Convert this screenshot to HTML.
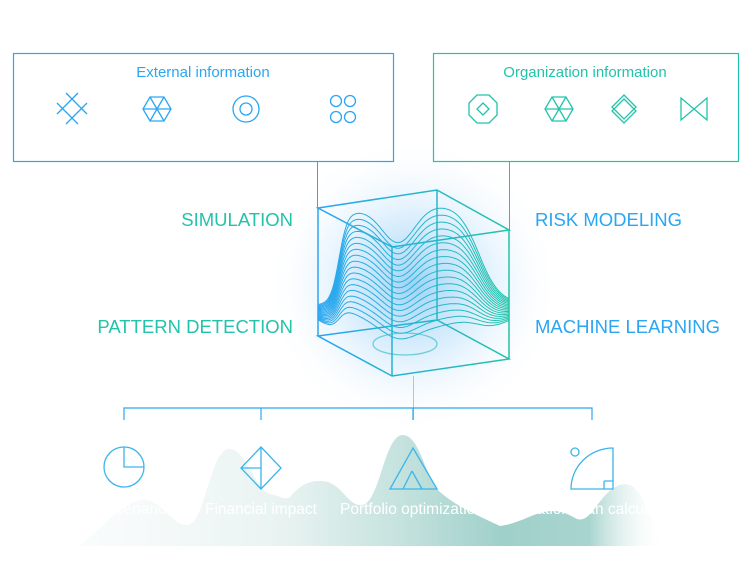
<!DOCTYPE html>
<html><head><meta charset="utf-8"><style>
html,body{margin:0;padding:0;background:#fff;width:755px;height:571px;overflow:hidden}
svg{display:block}
</style></head><body>
<svg id="s" width="755" height="571" viewBox="0 0 755 571" xmlns="http://www.w3.org/2000/svg" font-family="Liberation Sans, Arial, sans-serif">
<defs>
<radialGradient id="glow" cx="413" cy="285" r="150" gradientUnits="userSpaceOnUse">
<stop offset="0" stop-color="#7cc4f5" stop-opacity="0.75"/>
<stop offset="0.45" stop-color="#b8defa" stop-opacity="0.5"/>
<stop offset="1" stop-color="#ffffff" stop-opacity="0"/>
</radialGradient>
<linearGradient id="sg" x1="318" y1="0" x2="509" y2="0" gradientUnits="userSpaceOnUse">
<stop offset="0" stop-color="#2aa6f2"/><stop offset="1" stop-color="#22c3aa"/>
</linearGradient>
<linearGradient id="mt" x1="80" y1="0" x2="665" y2="0" gradientUnits="userSpaceOnUse">
<stop offset="0" stop-color="#f4f9f9" stop-opacity="0.5"/>
<stop offset="0.35" stop-color="#e8f3f1"/>
<stop offset="0.55" stop-color="#c4e2de"/>
<stop offset="0.72" stop-color="#a0d0ca"/>
<stop offset="0.87" stop-color="#a8d4ce"/>
<stop offset="1" stop-color="#ffffff" stop-opacity="0"/>
</linearGradient>
</defs>
<ellipse cx="413" cy="285" rx="200" ry="145" fill="url(#glow)"/>

<rect x="13.5" y="53.5" width="380" height="108" fill="none" stroke="#2aa6f2" stroke-width="1.2"/>
<rect x="433.5" y="53.5" width="305" height="108" fill="none" stroke="#22c3aa" stroke-width="1.2"/>
<text x="203" y="77" text-anchor="middle" font-size="15" fill="#2aa6f2">External information</text>
<text x="585" y="77" text-anchor="middle" font-size="15" fill="#22c3aa">Organization information</text>
<line x1="317.5" y1="162" x2="317.5" y2="208" stroke="#2aa6f2" stroke-width="1"/>
<line x1="509.5" y1="162" x2="509.5" y2="230" stroke="#22c3aa" stroke-width="1"/>

<g fill="none" stroke="#2aa6f2" stroke-width="1.3">
<path d="M66 93 L87 114 M78 93 L57 114 M57 103 L78 124 M87 103 L66 124"/>
<path d="M150 97 L164 97 L171 109 L164 121 L150 121 L143 109 Z M143 109 L171 109 M150 97 L164 121 M164 97 L150 121"/>
<circle cx="246" cy="109" r="13"/><circle cx="246" cy="109" r="6"/>
<circle cx="336" cy="101" r="5.5"/><circle cx="350" cy="101" r="5.5"/><circle cx="336" cy="117" r="5.5"/><circle cx="350" cy="117" r="5.5"/>
</g>
<g fill="none" stroke="#22c3aa" stroke-width="1.3">
<path d="M477 95 L489 95 L497 103 L497 115 L489 123 L477 123 L469 115 L469 103 Z"/>
<path d="M483 103 L489 109 L483 115 L477 109 Z"/>
<path d="M552 97 L566 97 L573 109 L566 121 L552 121 L545 109 Z M545 109 L573 109 M552 97 L566 121 M566 97 L552 121"/>
<path d="M624 95 L636 107 L624 119 L612 107 Z"/>
<path d="M624 99 L636 111 L624 123 L612 111 Z"/>
<path d="M681 98 L681 120 L707 98 L707 120 Z"/>
</g>

<text x="293" y="226" text-anchor="end" font-size="18.5" fill="#22c3aa">SIMULATION</text>
<text x="293" y="333" text-anchor="end" font-size="18.5" fill="#22c3aa">PATTERN DETECTION</text>
<text x="535" y="226" font-size="18.5" fill="#2aa6f2">RISK MODELING</text>
<text x="535" y="333" font-size="18.5" fill="#2aa6f2">MACHINE LEARNING</text>

<g id="curves" fill="none" stroke="url(#sg)" stroke-width="1"></g>

<ellipse cx="405" cy="344" rx="32" ry="11" fill="none" stroke="#3bbfc4" stroke-width="1.3" opacity="0.7"/>

<g fill="none" stroke="url(#sg)" stroke-width="1.5">
<path d="M318 208 L437 190 L509 230 L392 247 Z"/>
<path d="M318 336 L437 320 L509 359 L392 376 Z"/>
<path d="M318 208 L318 336 M437 190 L437 320 M509 230 L509 359 M392 247 L392 376"/>
</g>
<line x1="413.5" y1="376" x2="413.5" y2="420" stroke="#8fd3e8" stroke-width="1"/>

<g stroke="#2aa6f2" stroke-width="1.2" fill="none">
<path d="M124 420 L124 408 L592 408 L592 420 M261 408 L261 420 M413 408 L413 420"/>
</g>

<path d="M80 545 C100 530 120 505 140 500 C160 496 170 525 187 525 C205 525 210 452 228 449 C245 446 255 490 270 494 C282 497 285 500 290 497 C300 485 312 478 328 482 C345 488 350 510 365 504 C380 496 385 437 402 435 C420 434 425 478 440 492 C455 505 470 512 500 526 C530 522 545 500 575 518 C592 528 600 486 625 484 C645 484 650 530 665 540 L665 546 L80 546 Z" fill="url(#mt)"/>

<g fill="none" stroke="#3cb5ec" stroke-width="1.3">
<circle cx="124" cy="467" r="20"/><path d="M124 447 L124 467 L144 467"/>
<path d="M261 447 L281 468 L261 489 L241 468 Z M261 447 L261 489 M241 468 L261 468"/>
<path d="M413 448 L437 489 L390 489 Z M412 471 L422 489 M412 471 L403 489"/>
<path d="M571 489 A42 41 0 0 1 613 448 L613 489 Z M604 481 L613 481 M604 481 L604 489"/>
<circle cx="575" cy="452" r="4"/>
</g>
<g fill="#ffffff" font-size="15.5">
<text x="124" y="514" text-anchor="middle">Risk scenarios</text>
<text x="205" y="514">Financial impact</text>
<text x="340" y="514">Portfolio optimization</text>
<text x="592" y="514" text-anchor="middle">Allocation plan calculation</text>
</g>
</svg>
<script>
(function(){
var g=document.getElementById('curves'),N=18,out='';
function ga(u,m,s){return Math.exp(-Math.pow((u-m)/s,2)/2);}
function sg(z){return 1/(1+Math.exp(-z));}
for(var i=0;i<N;i++){
 var t=i/(N-1);
 var L=305+15*t,R=304+18*t,A=98-68*t,d='';
 for(var k=0;k<=120;k++){
  var u=k/120,x=318+191*u;
  var base=L+(R-L)*u+38*t*Math.sin(Math.PI*u);
  var env=sg((u-0.11)/0.022)*(1-sg((u-0.84)/0.055));
  var shape=env*(1-0.36*ga(u,0.42,0.085))*(0.93+0.14*u);
  var y=base-A*shape;
  d+=(k?'L':'M')+x.toFixed(1)+' '+y.toFixed(1);
 }
 out+='<path d="'+d+'"/>';
}
g.innerHTML=out;
})();
</script>
</body></html>
